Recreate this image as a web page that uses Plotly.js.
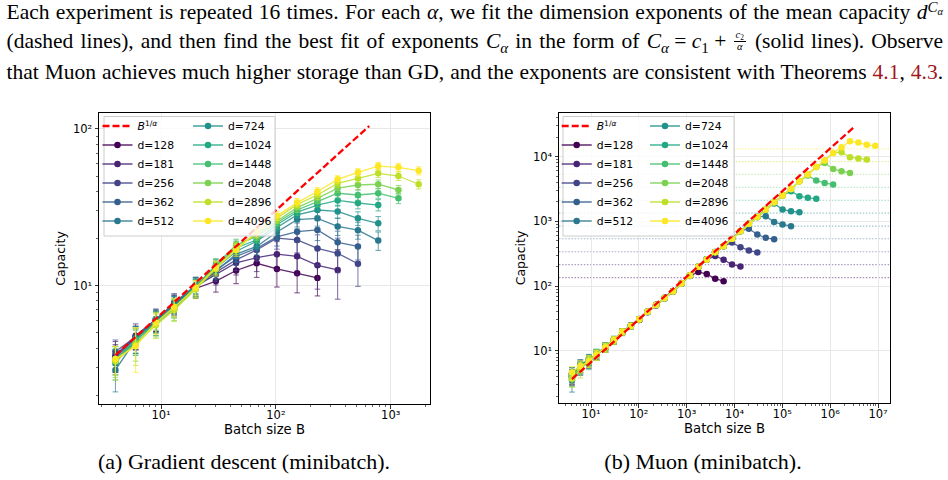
<!DOCTYPE html>
<html>
<head>
<meta charset="utf-8">
<script src="https://cdn.plot.ly/plotly-3.0.1.min.js"></script>
<style>
html, body { margin: 0; padding: 0; background: #fff; overflow: hidden; }
#page { position: relative; width: 948px; height: 480px; }
#chart { position: absolute; left: 0; top: 0; width: 948px; height: 480px; }
.txt { position: absolute; font-family: "Liberation Serif", "Times New Roman", serif; font-size: 21.5px; line-height: 24px; color: #000; white-space: nowrap; }
.line { left: 6.5px; }
.txt sup { font-size: 70%; vertical-align: baseline; position: relative; top: -0.5em; }
.txt sub { font-size: 70%; vertical-align: baseline; position: relative; top: 0.3em; }
.frac { display: inline-block; position: relative; width: 12px; height: 0; margin: 0 2px; }
.frac .num, .frac .den { position: absolute; left: -2px; width: 16px; text-align: center; font-size: 10.5px; line-height: 8px; }
.frac .num { top: -17.2px; }
.frac .den { top: -5.6px; }
.frac .num sub { top: 0.2em; }
.frac .bar { position: absolute; left: 0; width: 12px; top: -7.6px; border-top: 0.8px solid #000; }
.ref { color: #a3151a; }
.cap { width: 460px; text-align: center; font-size: 22px; }
</style>
</head>
<body>
<div id="page">
  <div id="chart"></div>
  <div class="txt line" style="top:0.2px">Each experiment is repeated 16 times. For each <i>α</i>, we fit the dimension exponents of the mean capacity <i>d</i><sup><i>C</i><sub><i>α</i></sub></sup></div>
  <div class="txt line" style="top:29.4px">(dashed lines), and then find the best fit of exponents <i>C</i><sub><i>α</i></sub> in the form of <i>C</i><sub><i>α</i></sub>&#8197;=&#8197;<i>c</i><sub>1</sub>&#8197;+&#8197;<span class="frac"><span class="num"><i>c</i><sub>2</sub></span><span class="bar"></span><span class="den"><i>α</i></span></span> (solid lines). Observe</div>
  <div class="txt line" style="top:59.9px">that Muon achieves much higher storage than GD, and the exponents are consistent with Theorems <span class="ref">4.1</span>, <span class="ref">4.3</span>.</div>
  <div class="txt cap" style="left:14px;top:450px">(a) Gradient descent (minibatch).</div>
  <div class="txt cap" style="left:473px;top:450px">(b) Muon (minibatch).</div>
</div>
<script>
// ---- data ----
const dims = [128, 181, 256, 362, 512, 724, 1024, 1448, 2048, 2896, 4096];

const gdBatch = [4, 6, 9, 13, 20, 30, 45, 68, 102, 153, 230, 345, 518, 778, 1167, 1751];
// mean capacity for each d (gradient descent, minibatch)
const gdCapacity = [
  [3.5, 4.7, 6.0, 7.7, 9.6, 10.7, 12.5, 13.9, 12.8, 12.0, 11.2],
  [3.6, 4.8, 6.1, 7.6, 9.9, 11.8, 14.0, 15.1, 15.9, 15.4, 13.5, 12.6],
  [3.8, 4.7, 6.0, 7.8, 10.0, 12.2, 14.6, 16.9, 20.1, 19.6, 17.3, 16.1, 13.8],
  [3.4, 4.6, 5.9, 7.5, 9.8, 12.6, 15.4, 17.3, 20.5, 22.1, 22.7, 18.9, 17.8],
  [2.9, 4.5, 5.8, 7.4, 9.7, 12.4, 15.9, 17.8, 22.0, 26.4, 26.9, 23.9, 22.6, 19.4],
  [3.2, 4.6, 6.1, 7.6, 10.1, 12.9, 16.6, 19.2, 23.5, 28.3, 30.4, 29.8, 26.9, 25.0],
  [3.3, 4.4, 5.9, 7.3, 9.9, 13.3, 17.4, 19.6, 24.5, 29.5, 32.7, 35.0, 33.7, 32.7],
  [3.4, 4.5, 5.8, 7.2, 9.8, 13.6, 18.2, 20.6, 25.2, 30.4, 34.4, 38.9, 37.9, 38.9, 36.1],
  [3.3, 4.3, 5.7, 7.1, 9.6, 13.2, 17.9, 21.2, 26.0, 31.5, 36.1, 41.9, 43.9, 44.4, 40.8],
  [3.3, 4.2, 5.6, 7.0, 9.5, 12.8, 17.3, 21.6, 27.0, 33.0, 37.9, 45.0, 48.4, 52.1, 50.1, 44.4],
  [3.4, 4.1, 5.8, 7.3, 9.7, 13.0, 16.9, 22.1, 27.9, 33.9, 39.9, 47.7, 52.9, 58.0, 56.9, 54.2]
];
// spread over the 16 repeats
const gdSpread = [
  [0.7, 0.8, 0.9, 1.0, 1.3, 1.6, 2.2, 2.6, 3.0, 3.0, 2.6],
  [0.8, 0.9, 1.0, 1.1, 1.4, 1.7, 2.3, 2.8, 3.2, 3.6, 4.0, 4.4],
  [0.7, 0.8, 1.0, 1.1, 1.3, 1.6, 2.1, 2.6, 3.0, 3.4, 3.8, 4.0, 3.9],
  [0.7, 0.9, 0.9, 1.0, 1.3, 1.5, 1.9, 2.3, 2.6, 3.0, 3.3, 3.4, 3.2],
  [0.8, 0.8, 1.0, 1.1, 1.2, 1.5, 1.8, 2.1, 2.4, 2.7, 2.9, 3.0, 2.8, 2.6],
  [0.7, 0.9, 0.9, 1.0, 1.2, 1.4, 1.7, 2.0, 2.3, 2.5, 2.7, 2.8, 2.7, 2.6],
  [0.6, 0.8, 0.9, 1.0, 1.1, 1.4, 1.7, 1.9, 2.2, 2.4, 2.6, 2.8, 2.8, 2.7],
  [0.7, 0.9, 1.0, 1.0, 1.2, 1.3, 1.6, 1.9, 2.1, 2.3, 2.5, 2.7, 2.8, 2.8, 2.7],
  [0.7, 1.0, 1.0, 1.1, 1.2, 1.3, 1.6, 1.8, 2.0, 2.2, 2.4, 2.6, 2.8, 2.9, 2.8],
  [0.8, 1.1, 1.0, 1.1, 1.2, 1.3, 1.5, 1.7, 1.9, 2.1, 2.4, 2.6, 2.9, 3.1, 3.2, 3.0],
  [0.7, 1.3, 0.9, 1.0, 1.1, 1.3, 1.5, 1.7, 1.9, 2.1, 2.3, 2.6, 2.9, 3.2, 3.4, 3.2]
];
const gdRefBatch = [4, 650];
const gdRefCapacity = [3.6, 104.5];

const muonBatch = [4, 6, 9, 13, 20, 30, 45, 68, 102, 153, 230, 345, 518, 778, 1167, 1751, 2627, 3941,
  5911, 8867, 13300, 19950, 29925, 44887, 67331, 100997, 151495, 227243, 340864, 511296, 766944,
  1150416, 1725624, 2588436, 3882654, 5823981, 8735972];
// mean capacity for each d (Muon, minibatch)
const muonCapacity = [
  [4.0, 5.8, 6.8, 8.9, 11.0, 14.9, 19.0, 24.6, 30.0, 40.5, 50, 66, 82, 111, 143, 165, 153, 130, 119],
  [4.4, 5.5, 7.2, 8.5, 11.6, 14.3, 19.8, 24.0, 31.0, 39.5, 51.5, 64, 84, 109, 146, 197, 256, 292, 255, 215, 201],
  [3.8, 6.0, 7.3, 8.8, 11.1, 14.8, 19.2, 24.5, 30.2, 40.3, 50.5, 65.5, 82.5, 110.5, 145.5, 198, 259, 333, 414, 470, 398, 355, 331],
  [4.1, 5.4, 6.9, 9.0, 11.5, 14.4, 19.6, 23.9, 30.8, 39.8, 51.2, 64.8, 83.3, 109.5, 144.5, 199.5, 257, 335, 415, 536, 705, 770, 627, 556, 530],
  [3.5, 5.7, 7.1, 8.6, 11.2, 14.7, 19.4, 24.3, 30.4, 40.2, 50.8, 65.2, 82.8, 110.2, 145.2, 198.5, 258.5, 333.5, 413, 538, 704, 915, 1172, 1200, 973, 895, 843],
  [4.3, 5.3, 6.7, 8.8, 11.4, 14.5, 19.5, 24.1, 30.6, 40.1, 51.1, 64.9, 83.1, 110.3, 144.8, 199.2, 257.5, 334.5, 414.5, 537.5, 706, 913, 1171, 1520, 1883, 1521, 1435, 1384],
  [4.5, 5.9, 7.4, 8.4, 11.8, 14.2, 19.9, 24.4, 30.3, 39.9, 50.9, 65.1, 82.9, 109.8, 145.3, 198.8, 258.2, 334.2, 413.8, 536.5, 705.5, 914.5, 1173, 1521, 1971, 2500, 2924, 2450, 2310, 2230],
  [3.9, 5.6, 6.6, 9.1, 11.0, 15.0, 19.1, 24.2, 30.7, 40.4, 51.3, 64.6, 83.4, 110.1, 144.9, 199.1, 257.8, 333.8, 414.2, 537.2, 704.5, 914.2, 1172.5, 1519, 1973, 2501, 3161, 4155, 5100, 4266, 3926, 3700],
  [4.2, 5.5, 7.0, 8.7, 11.4, 14.6, 19.3, 23.8, 30.5, 40.0, 51.0, 65.0, 83.0, 110.0, 145.0, 199.0, 258.0, 334.0, 414.0, 537.0, 705.0, 914.0, 1172, 1520, 1972, 2500, 3162, 4154, 5275, 6934, 8000, 6457, 5943, 5598],
  [3.7, 5.2, 7.2, 8.9, 11.2, 14.4, 19.7, 24.3, 30.4, 40.1, 50.9, 65.3, 82.7, 110.2, 145.1, 198.7, 258.3, 334.3, 413.7, 537.3, 705.2, 913.8, 1171.8, 1520.5, 1972.5, 2499, 3163, 4156, 5274, 6935, 8681, 11400, 11700, 9790, 9320, 9000],
  [4.6, 5.8, 6.9, 8.6, 11.3, 14.7, 19.6, 24.2, 30.6, 40.0, 51.1, 64.9, 83.2, 109.9, 145.2, 199.3, 257.9, 334.1, 414.1, 536.9, 704.8, 914.1, 1172.2, 1519.8, 1971.8, 2500.5, 3162.5, 4155.5, 5275.5, 6934.5, 8680, 11401, 13970, 17300, 16500, 15200, 14700]
];
// spread over the repeats (only resolvable at small batch sizes)
const muonSpread = [
  [1.0, 1.2, 1.4, 1.5, 1.6, 1.7, 1.8, 2.0],
  [1.1, 1.1, 1.3, 1.4, 1.7, 1.8, 1.9, 2.1],
  [0.9, 1.3, 1.4, 1.6, 1.5, 1.9, 2.0, 2.2],
  [1.0, 1.2, 1.5, 1.5, 1.6, 1.7, 2.1, 2.3],
  [1.2, 1.0, 1.3, 1.4, 1.8, 1.8, 2.0, 2.1],
  [0.9, 1.1, 1.2, 1.6, 1.7, 1.9, 1.9, 2.2],
  [1.0, 1.3, 1.4, 1.3, 1.6, 1.7, 2.1, 2.0],
  [1.1, 1.2, 1.5, 1.5, 1.5, 1.8, 2.0, 2.3],
  [0.8, 1.0, 1.3, 1.6, 1.7, 1.7, 1.8, 2.1],
  [1.0, 1.4, 1.2, 1.4, 1.6, 1.9, 2.2, 2.4],
  [1.1, 1.2, 1.4, 1.5, 1.8, 1.8, 2.0, 2.2]
];
// fitted capacity level d^C for each d (dotted lines)
const muonLevels = [135, 214, 339, 537, 843, 1340, 2120, 3370, 5350, 8380, 13150];
const muonRefBatch = [4, 3.2e6];
const muonRefCapacity = [3.65, 28900];

const gdXTicks = [10, 100, 1000];
const gdXLabels = ['10¹', '10²', '10³'];
const gdYTicks = [10, 100];
const gdYLabels = ['10¹', '10²'];
const muonXTicks = [10, 1e2, 1e3, 1e4, 1e5, 1e6, 1e7];
const muonXLabels = ['10¹', '10²', '10³', '10⁴', '10⁵', '10⁶', '10⁷'];
const muonYTicks = [10, 1e2, 1e3, 1e4];
const muonYLabels = ['10¹', '10²', '10³', '10⁴'];

// ---- styling ----
const W = 948, H = 480;
const viridis = ['#440154', '#482475', '#414487', '#355f8d', '#2a788e', '#21918c',
                 '#22a884', '#44bf70', '#7ad151', '#bddf26', '#fde725'];
const FONT = 'DejaVu Sans, Verdana, sans-serif';

function rgba(hex, a) {
  const n = parseInt(hex.slice(1), 16);
  return 'rgba(' + (n >> 16 & 255) + ',' + (n >> 8 & 255) + ',' + (n & 255) + ',' + a + ')';
}
const px = x => x / W;
const py = y => 1 - y / H;

function minorTicks(maxExp) {
  const out = [];
  for (let e = 0; e <= maxExp; e++) for (let m = 2; m <= 9; m++) out.push(m * Math.pow(10, e));
  return out;
}

function logAxis(domain, range, vals, labels, minorMax, title, anchor, isY) {
  return {
    type: 'log', domain: domain, range: range, anchor: anchor,
    showline: true, mirror: true, linecolor: '#000', linewidth: 1,
    ticks: 'outside', ticklen: 3.5, tickwidth: 0.8, tickcolor: '#000',
    tickmode: 'array', tickvals: vals, ticktext: labels,
    tickfont: { family: FONT, size: 11.5, color: '#000' },
    ticklabelstandoff: isY ? 0 : -3,
    showgrid: true, gridcolor: '#e8e8e8', gridwidth: 1, zeroline: false,
    minor: { tickmode: 'array', tickvals: minorTicks(minorMax), ticks: 'outside',
             ticklen: 2, tickwidth: 0.6, tickcolor: '#000', showgrid: false },
    title: { text: title, font: { family: FONT, size: isY ? 12.5 : 13.2, color: '#000' }, standoff: isY ? 4 : 0 },
    automargin: false, fixedrange: true
  };
}

const traces = [];
function addSeries(batch, capacity, spread, xa, ya, legA, legB, msize) {
  dims.forEach((d, i) => {
    const y = capacity[i];
    const c = viridis[i];
    traces.push({
      type: 'scatter', mode: 'lines+markers', name: 'd=' + d,
      x: batch.slice(0, y.length), y: y, xaxis: xa, yaxis: ya,
      line: { color: rgba(c, 0.85), width: 1.3 },
      marker: { color: c, size: msize, line: { width: 0 } },
      error_y: { type: 'data', array: spread[i], visible: true, color: rgba(c, 0.7), thickness: 1, width: 2.8 },
      legend: i < 5 ? legA : legB, legendrank: 10 + i, hoverinfo: 'skip'
    });
  });
}
addSeries(gdBatch, gdCapacity, gdSpread, 'x', 'y', 'legend', 'legend2', 6.5);
traces.push({
  type: 'scatter', mode: 'lines', name: '<i>B</i><sup>1/<i>α</i></sup>',
  x: gdRefBatch, y: gdRefCapacity, xaxis: 'x', yaxis: 'y',
  line: { color: '#ff0000', width: 2.3, dash: '7px,3px' },
  legend: 'legend', legendrank: 1, hoverinfo: 'skip'
});
addSeries(muonBatch, muonCapacity, muonSpread, 'x2', 'y2', 'legend3', 'legend4', 6.5);
traces.push({
  type: 'scatter', mode: 'lines', name: '<i>B</i><sup>1/<i>α</i></sup>',
  x: muonRefBatch, y: muonRefCapacity, xaxis: 'x2', yaxis: 'y2',
  line: { color: '#ff0000', width: 2.3, dash: '7px,3px' },
  legend: 'legend3', legendrank: 1, hoverinfo: 'skip'
});

const shapes = muonLevels.map((lv, i) => ({
  type: 'line', xref: 'x2 domain', yref: 'y2', x0: 0, x1: 1, y0: lv, y1: lv,
  line: { color: rgba(viridis[i], 0.45), width: 1.1, dash: '1.5px,1.6px' }, layer: 'below'
}));
function legendBox(x0, x1, y0, y1) {
  return { type: 'rect', xref: 'paper', yref: 'paper', x0: px(x0), x1: px(x1), y0: py(y1), y1: py(y0),
           fillcolor: 'rgba(255,255,255,0.8)', line: { color: '#cccccc', width: 1 }, layer: 'above' };
}
shapes.push(legendBox(104, 275, 116.5, 236));
shapes.push(legendBox(563, 734, 116.5, 236));

function legendAt(x, y) {
  return { x: px(x), y: py(y), xanchor: 'left', yanchor: 'top', orientation: 'v',
           bgcolor: 'rgba(0,0,0,0)', borderwidth: 0, traceorder: 'normal',
           font: { family: FONT, size: 10.8, color: '#000' },
           itemclick: false, itemdoubleclick: false };
}

const layout = {
  width: W, height: H, margin: { l: 0, r: 0, t: 0, b: 0 },
  paper_bgcolor: 'rgba(0,0,0,0)', plot_bgcolor: '#fff', showlegend: true,
  xaxis: logAxis([px(99), px(430)], [0.459, 3.342], gdXTicks, gdXLabels, 3, 'Batch size B', 'y', false),
  yaxis: logAxis([py(404), py(113)], [0.245, 2.102], gdYTicks, gdYLabels, 2, 'Capacity', 'x', true),
  xaxis2: logAxis([px(559), px(890)], [0.331, 7.25], muonXTicks, muonXLabels, 7, 'Batch size B', 'y2', false),
  yaxis2: logAxis([py(403), py(113)], [0.193, 4.674], muonYTicks, muonYLabels, 4, 'Capacity', 'x2', true),
  legend: legendAt(97.5, 111.5),
  legend2: legendAt(188, 111.5),
  legend3: legendAt(556.7, 111.5),
  legend4: legendAt(645, 111.5),
  shapes: shapes
};

Plotly.newPlot('chart', traces, layout, { staticPlot: true, displayModeBar: false });

// stretch each paragraph line to the full text width (justified), once the fonts are in
const TEXT_WIDTH = 936.5;
function justifyLines() {
  document.querySelectorAll('.line').forEach(el => {
    el.style.wordSpacing = '0px';
    const natural = el.getBoundingClientRect().width;
    const spaces = (el.textContent.match(/ /g) || []).length;
    if (spaces > 0) el.style.wordSpacing = ((TEXT_WIDTH - natural) / spaces) + 'px';
  });
}
justifyLines();
Promise.all([
  document.fonts.load('21.5px "Liberation Serif"'),
  document.fonts.load('italic 21.5px "Liberation Serif"'),
  document.fonts.load('15px "Liberation Serif"')
]).then(() => document.fonts.ready).then(justifyLines);
</script>
</body>
</html>
